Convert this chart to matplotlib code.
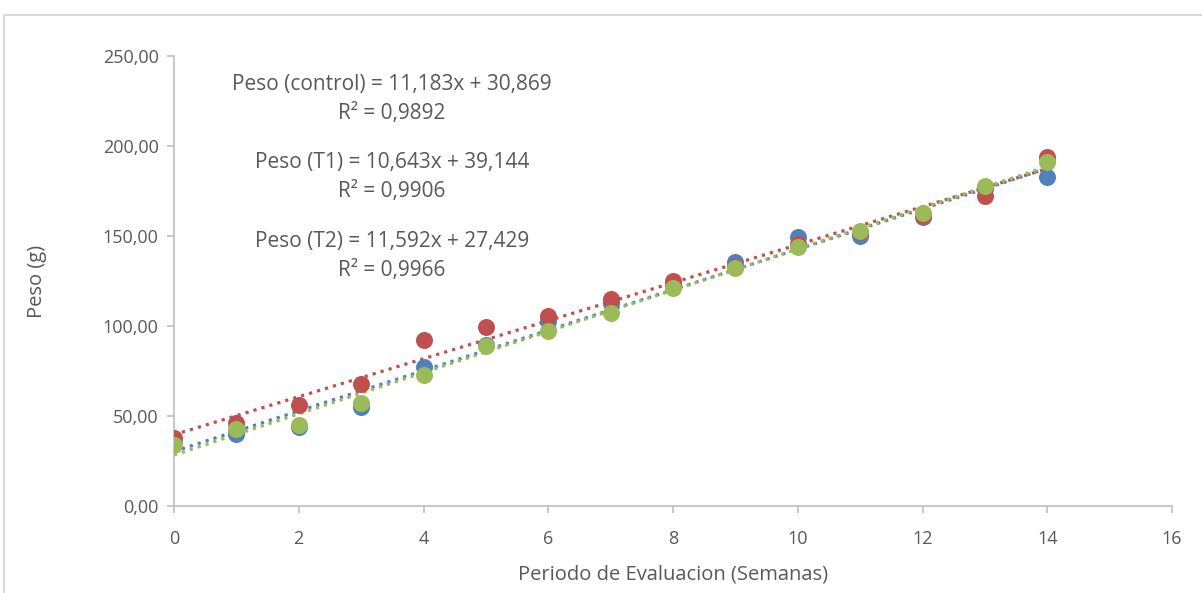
import numpy as np
import matplotlib as mpl
mpl.use('Agg')
import matplotlib.pyplot as plt
from matplotlib.ticker import FuncFormatter, MultipleLocator
from matplotlib.patches import Rectangle

# weeks and weights
semanas = np.arange(0, 15)
peso_control = [35, 40, 44, 55, 77, 89.5, 103, 113, 123, 135.5, 149.5, 150, 160.5, 176, 183]
peso_t1 = [38, 46, 56, 68, 92, 99.5, 105.5, 115, 125, 133, 145.5, 152, 161, 172, 194]
peso_t2 = [34, 43, 45, 57, 73, 89, 97, 107, 121, 132, 144, 153, 163, 178, 191]

ecuaciones = ["Peso (control) = 11,183x + 30,869\nR² = 0,9892",
              "Peso (T1) = 10,643x + 39,144\nR² = 0,9906",
              "Peso (T2) = 11,592x + 27,429\nR² = 0,9966"]

series = [(peso_control, '#4F81BD'), (peso_t1, '#C0504D'), (peso_t2, '#9BBB59')]

plt.rcParams['font.family'] = ['Open Sans', 'DejaVu Sans']
grey = '#595959'

W, H = 1202, 593
fig = plt.figure(figsize=(W / 100, H / 100), dpi=100)
fig.patches.append(Rectangle((4 / W, -0.1), 1.2, 1 - 15 / H + 0.1, transform=fig.transFigure,
                             fill=False, edgecolor='#d9d9d9', linewidth=1.5))
ax = fig.add_axes([174 / W, 1 - 506 / H, (1172 - 174) / W, (506 - 56) / H])

for vals, col in series:
    ax.scatter(semanas, vals, s=150, color=col, zorder=3, linewidths=0)
for vals, col in series:
    m, b = np.polyfit(semanas, vals, 1)
    ax.plot(semanas, m * semanas + b, color=col, linestyle=(0, (1, 1.6)), linewidth=2.3, zorder=2)

ax.set_xlim(0, 16)
ax.set_ylim(0, 250)
ax.xaxis.set_major_locator(MultipleLocator(2))
ax.yaxis.set_major_locator(MultipleLocator(50))
ax.yaxis.set_major_formatter(FuncFormatter(lambda v, p: ('%.2f' % v).replace('.', ',')))
ax.xaxis.set_major_formatter(FuncFormatter(lambda v, p: '%d' % v))
for s in ['top', 'right']:
    ax.spines[s].set_visible(False)
for s in ['left', 'bottom']:
    ax.spines[s].set_color('#bfbfbf')
    ax.spines[s].set_linewidth(1.2)
ax.tick_params(colors='#bfbfbf', labelcolor=grey, labelsize=13, length=5, width=1.2)
ax.tick_params(axis='x', pad=12)
ax.tick_params(axis='y', pad=6)
ax.set_xlabel('Periodo de Evaluacion (Semanas)', fontsize=14.5, color=grey, labelpad=12)
ax.set_ylabel('Peso (g)', fontsize=14.5, color=grey, labelpad=40)

ys = [99, 177, 256]
for t, y in zip(ecuaciones, ys):
    fig.text(392 / W, 1 - y / H, t, ha='center', va='center', fontsize=15, color=grey,
             linespacing=1.5)

fig.savefig('out.png', dpi=100)
